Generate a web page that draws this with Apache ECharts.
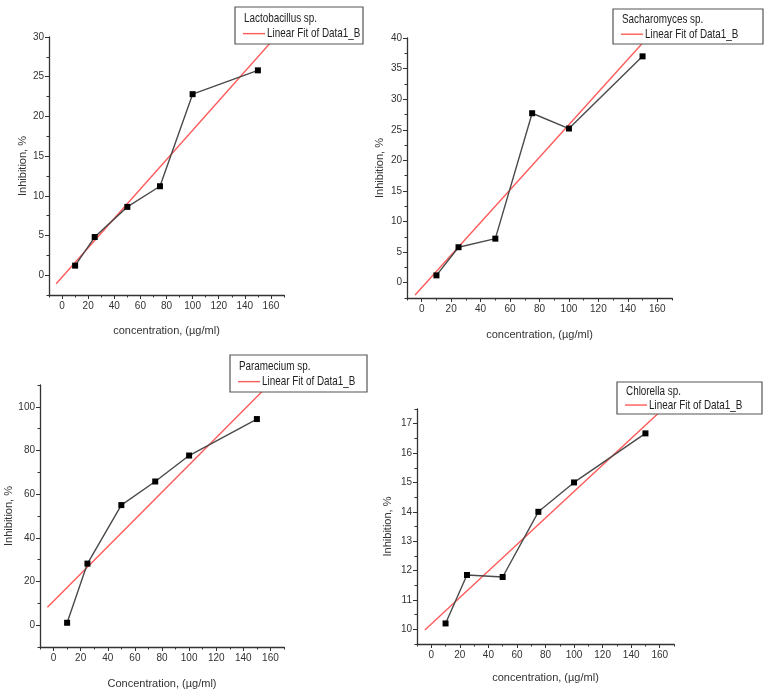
<!DOCTYPE html>
<html>
<head>
<meta charset="utf-8">
<script src="https://cdn.jsdelivr.net/npm/echarts@6/dist/echarts.min.js"></script>
<style>
html,body{margin:0;padding:0;background:#fff;}
#chart{width:770px;height:693px;}
</style>
</head>
<body>
<div id="chart"></div>
<script>
// ---- data ----
const concentration = [10, 25, 50, 75, 100, 150];
const lactobacillus = [1.2, 4.8, 8.6, 11.2, 22.8, 25.8];
const sacharomyces = [1.2, 5.8, 7.2, 27.7, 25.2, 37.0];
const paramecium = [1.1, 28.2, 55.0, 65.8, 77.7, 94.4];
const chlorella = [10.2, 11.85, 11.78, 14.0, 15.0, 16.67];

// linear fit lines, read as end points from the picture
const fitX = [-4.5, 170];
const lactobacillusFit = [-1.08, 31.2];
const sacharomycesFit = [-2.0, 44.5];
const parameciumFit = [8.2, 117.1];
const chlorellaFit = [9.98, 17.85];

// tick labels
const xTicks = [0, 20, 40, 60, 80, 100, 120, 140, 160];
const xMinorTicks = [-10, 10, 30, 50, 70, 90, 110, 130, 150, 170];
const lactoTicks = [0, 5, 10, 15, 20, 25, 30];
const lactoMinor = [-2.5, 2.5, 7.5, 12.5, 17.5, 22.5, 27.5];
const sachTicks = [0, 5, 10, 15, 20, 25, 30, 35, 40];
const sachMinor = [-2.5, 2.5, 7.5, 12.5, 17.5, 22.5, 27.5, 32.5, 37.5];
const paraTicks = [0, 20, 40, 60, 80, 100];
const paraMinor = [-10, 10, 30, 50, 70, 90, 110];
const chloTicks = [10, 11, 12, 13, 14, 15, 16, 17];
const chloMinor = [9.5, 10.5, 11.5, 12.5, 13.5, 14.5, 15.5, 16.5, 17.5];

const legendFitName = 'Linear Fit of Data1_B';
const FONT = '"Liberation Sans", Arial, sans-serif';

const panels = [
  {title: 'Lactobacillus sp.', values: lactobacillus, fit: lactobacillusFit,
   yMin: -2.5, yMax: 30, yTicks: lactoTicks, yMinor: lactoMinor,
   grid: {left: 49, top: 37, width: 235, height: 258},
   xName: 'concentration, (µg/ml)', xGap: 30, yGap: 21,
   box: {x: 235, y: 7, w: 128, h: 37}},
  {title: 'Sacharomyces sp.', values: sacharomyces, fit: sacharomycesFit,
   yMin: -2.5, yMax: 40, yTicks: sachTicks, yMinor: sachMinor,
   grid: {left: 407, top: 38, width: 265, height: 260},
   xName: 'concentration, (µg/ml)', xGap: 31, yGap: 22,
   box: {x: 613, y: 9, w: 150, h: 35}},
  {title: 'Paramecium sp.', values: paramecium, fit: parameciumFit,
   yMin: -10, yMax: 110, yTicks: paraTicks, yMinor: paraMinor,
   grid: {left: 40, top: 385, width: 244, height: 262},
   xName: 'Concentration, (µg/ml)', xGap: 31, yGap: 26,
   box: {x: 230, y: 355, w: 137, h: 37}},
  {title: 'Chlorella sp.', values: chlorella, fit: chlorellaFit,
   yMin: 9.5, yMax: 17.5, yTicks: chloTicks, yMinor: chloMinor,
   grid: {left: 417, top: 409, width: 257, height: 235},
   xName: 'concentration, (µg/ml)', xGap: 28, yGap: 24,
   box: {x: 617, y: 382, w: 145, h: 32}}
];

const axisColor = '#333';
const grids = [], xAxes = [], yAxes = [], series = [], graphics = [];

panels.forEach((p, i) => {
  grids.push(Object.assign({containLabel: false}, p.grid));
  const xi = xAxes.length, yi = yAxes.length;
  xAxes.push({
    type: 'value', gridIndex: i, min: -10, max: 170, position: 'bottom',
    name: p.xName, nameLocation: 'middle', nameGap: p.xGap,
    nameTextStyle: {fontFamily: FONT, fontSize: 11, color: '#333'},
    axisLine: {show: true, onZero: false, lineStyle: {color: axisColor, width: 1.3}},
    axisTick: {show: true, length: 4, customValues: xTicks, lineStyle: {color: axisColor}},
    axisLabel: {show: true, customValues: xTicks, fontFamily: FONT, fontSize: 10, color: '#333', margin: 6},
    splitLine: {show: false}
  });
  xAxes.push({
    type: 'value', gridIndex: i, min: -10, max: 170, position: 'bottom',
    axisLine: {show: false, onZero: false},
    axisTick: {show: true, length: 2.5, customValues: xMinorTicks, lineStyle: {color: axisColor}},
    axisLabel: {show: false},
    splitLine: {show: false}
  });
  yAxes.push({
    type: 'value', gridIndex: i, min: p.yMin, max: p.yMax, position: 'left',
    name: 'Inhibition, %', nameLocation: 'middle', nameGap: p.yGap,
    nameTextStyle: {fontFamily: FONT, fontSize: 11, color: '#333'},
    axisLine: {show: true, onZero: false, lineStyle: {color: axisColor, width: 1.3}},
    axisTick: {show: true, length: 4, customValues: p.yTicks, lineStyle: {color: axisColor}},
    axisLabel: {show: true, customValues: p.yTicks, fontFamily: FONT, fontSize: 10, color: '#333', margin: 5},
    splitLine: {show: false}
  });
  yAxes.push({
    type: 'value', gridIndex: i, min: p.yMin, max: p.yMax, position: 'left',
    axisLine: {show: false, onZero: false},
    axisTick: {show: true, length: 2.5, customValues: p.yMinor, lineStyle: {color: axisColor}},
    axisLabel: {show: false},
    splitLine: {show: false}
  });
  series.push({
    name: legendFitName, type: 'line', xAxisIndex: xi, yAxisIndex: yi,
    data: fitX.map((x, k) => [x, p.fit[k]]),
    showSymbol: false, symbol: 'none', clip: true,
    lineStyle: {color: '#ff5a5a', width: 1.4}, z: 2, silent: true
  });
  series.push({
    name: p.title, type: 'line', xAxisIndex: xi, yAxisIndex: yi,
    data: concentration.map((x, k) => [x, p.values[k]]),
    symbol: 'rect', symbolSize: 6, clip: true,
    itemStyle: {color: '#000'},
    lineStyle: {color: '#4a4a4a', width: 1.4}, z: 3, silent: true
  });
  const b = p.box;
  const titleY = b.y + b.h * 0.3, rowY = b.y + b.h * 0.72;
  graphics.push({
    type: 'rect', z: 100, shape: {x: b.x, y: b.y, width: b.w, height: b.h},
    style: {fill: '#fff', stroke: '#555', lineWidth: 1.2}
  });
  graphics.push({
    type: 'text', z: 101, x: b.x + 9, y: titleY, scaleX: 0.76,
    style: {text: p.title, font: '13px ' + FONT, fill: '#222', verticalAlign: 'middle'}
  });
  graphics.push({
    type: 'line', z: 101, shape: {x1: b.x + 8, y1: rowY, x2: b.x + 30, y2: rowY},
    style: {stroke: '#ff5a5a', lineWidth: 1.4}
  });
  graphics.push({
    type: 'text', z: 101, x: b.x + 32, y: rowY, scaleX: 0.76,
    style: {text: legendFitName, font: '13px ' + FONT, fill: '#222', verticalAlign: 'middle'}
  });
});

const chart = echarts.init(document.getElementById('chart'), null, {renderer: 'canvas'});
chart.setOption({
  backgroundColor: '#fff',
  animation: false,
  grid: grids,
  xAxis: xAxes,
  yAxis: yAxes,
  series: series,
  graphic: graphics
});
</script>
</body>
</html>
